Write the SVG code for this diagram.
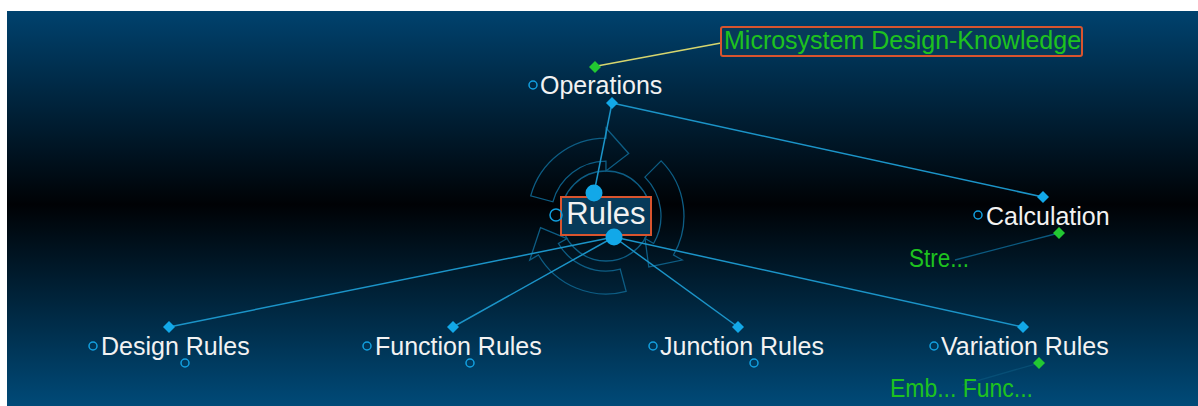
<svg xmlns="http://www.w3.org/2000/svg" width="1198" height="406" viewBox="0 0 1198 406">
<defs>
<linearGradient id="bg" x1="0" y1="0" x2="0" y2="1">
<stop offset="0" stop-color="#00426e"/>
<stop offset="0.49" stop-color="#000205"/>
<stop offset="1" stop-color="#004a78"/>
</linearGradient>
<path id="arw" d="M -67.5,-39 A 78 78 0 0 1 20.2,-75.3 L 22.8,-85 L 38.1,-54.5 L 11.6,-43.5 L 14.2,-53.1 A 55 55 0 0 0 -47.6,-27.5 Z"/>
</defs>
<style>
.lbl{font-family:"Liberation Sans",Arial,sans-serif;font-size:25px;fill:#f2f2f2}
.grn{font-family:"Liberation Sans",Arial,sans-serif;font-size:25px;fill:#1ec21e}
.con{stroke:#1b94c8;stroke-width:1.5;fill:none}
.dim{stroke:#0b5a80;stroke-width:1.3;fill:none}
.dia{fill:#12a8e8}
.gdia{fill:#22c832}
.ring{fill:none;stroke:#12a0e0;stroke-width:1.5}
.box{stroke:#d9542e;stroke-width:2;fill:#073a5a}
.deco{fill:none;stroke:#0d5d84;stroke-width:1.3}
</style>
<rect x="7" y="11" width="1191" height="395" fill="url(#bg)"/>
<g id="rules-widget">
<circle cx="606" cy="216" r="45" class="deco"/>
<g transform="translate(606,216) rotate(-15)">
<use href="#arw" class="deco"/>
<use href="#arw" class="deco" transform="rotate(120)"/>
<use href="#arw" class="deco" transform="rotate(240)"/>
</g>
</g>
<g id="connectors">
<line x1="597" y1="66" x2="721" y2="43" stroke="#d6d66e" stroke-width="1.5"/>
<line x1="612" y1="103" x2="594" y2="193" class="con"/>
<line x1="612" y1="103" x2="1043" y2="197" class="con"/>
<line x1="614" y1="237" x2="169" y2="327" class="con"/>
<line x1="614" y1="237" x2="453" y2="327" class="con"/>
<line x1="614" y1="237" x2="738" y2="327" class="con"/>
<line x1="614" y1="237" x2="1023" y2="327" class="con"/>
<line x1="1059" y1="233" x2="955" y2="260" class="dim"/>
<line x1="1039" y1="363" x2="962" y2="385" class="dim" opacity="0.6"/>
</g>
<g id="node-microsystem">
<rect x="721" y="27" width="361" height="29" rx="2" class="box"/>
<text x="724" y="49" class="grn">Microsystem Design-Knowledge</text>
</g>
<g id="node-operations">
<circle cx="533" cy="85" r="4" class="ring"/>
<text x="540" y="94" class="lbl">Operations</text>
<path d="M595,61 L601,67 L595,73 L589,67 Z" class="gdia"/>
<path d="M612,97 L618,103 L612,109 L606,103 Z" class="dia"/>
</g>
<g id="node-rules">
<rect x="561" y="197" width="90" height="38" class="box"/>
<circle cx="556" cy="215" r="6" class="ring"/>
<text x="606" y="224" class="lbl" text-anchor="middle" style="font-size:31px">Rules</text>
<circle cx="594" cy="193" r="8.5" class="dia"/>
<circle cx="614" cy="237" r="8.5" class="dia"/>
</g>
<g id="node-calculation">
<circle cx="978" cy="215" r="4" class="ring"/>
<text x="986" y="225" class="lbl">Calculation</text>
<path d="M1043,191 L1049,197 L1043,203 L1037,197 Z" class="dia"/>
<path d="M1059,227 L1065,233 L1059,239 L1053,233 Z" class="gdia"/>
<text x="909" y="267" class="grn" textLength="60" lengthAdjust="spacingAndGlyphs">Stre...</text>
</g>
<g id="node-design-rules">
<circle cx="93" cy="346" r="4" class="ring"/>
<text x="101" y="355" class="lbl">Design Rules</text>
<path d="M169,321 L175,327 L169,333 L163,327 Z" class="dia"/>
<circle cx="185" cy="363" r="4" class="ring"/>
</g>
<g id="node-function-rules">
<circle cx="367" cy="346" r="4" class="ring"/>
<text x="375" y="355" class="lbl">Function Rules</text>
<path d="M453,321 L459,327 L453,333 L447,327 Z" class="dia"/>
<circle cx="470" cy="363" r="4" class="ring"/>
</g>
<g id="node-junction-rules">
<circle cx="653" cy="346" r="4" class="ring"/>
<text x="660" y="355" class="lbl">Junction Rules</text>
<path d="M738,321 L744,327 L738,333 L732,327 Z" class="dia"/>
<circle cx="754" cy="363" r="4" class="ring"/>
</g>
<g id="node-variation-rules">
<circle cx="934" cy="346" r="4" class="ring"/>
<text x="941" y="355" class="lbl">Variation Rules</text>
<path d="M1023,321 L1029,327 L1023,333 L1017,327 Z" class="dia"/>
<path d="M1039,357 L1045,363 L1039,369 L1033,363 Z" class="gdia"/>
<text x="890" y="397" class="grn" textLength="143" lengthAdjust="spacingAndGlyphs">Emb... Func...</text>
</g>
</svg>
